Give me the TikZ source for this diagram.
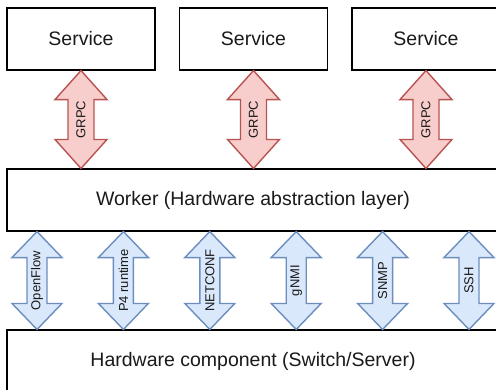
\documentclass[tikz,border=0pt]{standalone}
\usepackage{fontspec}
\setmainfont{Liberation Sans}
\usetikzlibrary{calc}
\definecolor{redfill}{HTML}{F8CECC}
\definecolor{redline}{HTML}{B85450}
\definecolor{bluefill}{HTML}{DAE8FC}
\definecolor{blueline}{HTML}{6C8EBF}
\definecolor{txt}{HTML}{1A1A1A}
% double arrow between two tips A (top) and B (bottom): #1 style, #2 A, #3 B, #4 half head width, #5 half shaft width, #6 head length
\newcommand\dblarr[6]{%
  \draw[#1] (#2) -- ($(#2)+(#4,#6)$) -- ($(#2)+(#5,#6)$) -- ($(#3)+(#5,-#6)$) -- ($(#3)+(#4,-#6)$) -- (#3)
    -- ($(#3)+(-#4,-#6)$) -- ($(#3)+(-#5,-#6)$) -- ($(#2)+(-#5,#6)$) -- ($(#2)+(-#4,#6)$) -- cycle;}
\begin{document}
\begin{tikzpicture}[x=1pt,y=-1pt,
  box/.style={draw=black,line width=1.1pt,fill=white,minimum width=148pt,minimum height=62pt,inner sep=0pt,
    text=txt,font=\fontsize{19.5}{23}\selectfont},
  layer/.style={box,minimum width=492pt},
  redarr/.style={draw=redline,fill=redfill,line width=1.4pt,line join=miter},
  bluearr/.style={draw=blueline,fill=bluefill,line width=1.4pt,line join=miter},
  lbl/.style={rotate=90,text=txt,font=\fontsize{13}{15}\selectfont,inner sep=0pt}]
\clip (0,0) rectangle (496,389);
\fill[white] (0,0) rectangle (496,389);
\node[box] (s1) at (81,39) {Service};
\node[box] (s2) at (253.5,39) {Service};
\node[box] (s3) at (426,39) {Service};
\node[layer] (w) at (253,200) {Worker (Hardware abstraction layer)};
\node[layer] (h) at (253,361) {Hardware component (Switch/Server)};
% GRPC arrows
\foreach \s in {s1,s2,s3}{
  \coordinate (top\s) at (\s.south);
  \coordinate (bot\s) at (w.north -| \s.south);
  \dblarr{redarr}{top\s}{bot\s}{26}{13}{29}
  \node[lbl] at ($(top\s)!0.5!(bot\s)$) {GRPC};
}
% protocol arrows
\foreach \x/\t [count=\i] in {37/OpenFlow,123.4/P4 runtime,209.8/NETCONF,296.2/gNMI,382.6/SNMP,469/SSH}{
  \coordinate (c\i) at (\x,0);
  \coordinate (pt\i) at (w.south -| c\i);
  \coordinate (pb\i) at (h.north -| c\i);
  \dblarr{bluearr}{pt\i}{pb\i}{25}{10}{26}
  \node[lbl] at ($(pt\i)!0.5!(pb\i)$) {\t};
}
\end{tikzpicture}
\end{document}
